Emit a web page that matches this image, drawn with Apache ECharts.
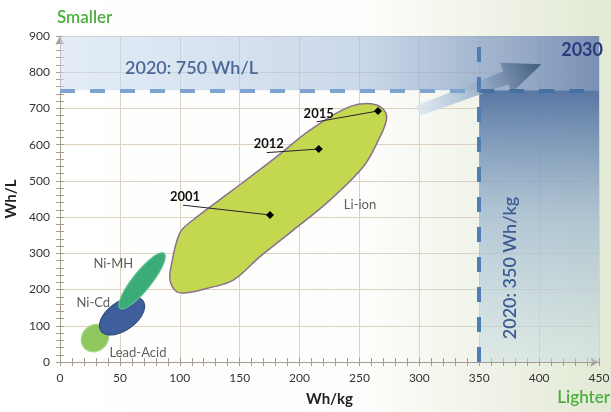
<!DOCTYPE html>
<html>
<head>
<meta charset="utf-8">
<script src="https://cdn.jsdelivr.net/npm/echarts/dist/echarts.min.js"></script>
<style>html,body{margin:0;padding:0;background:#fff}#c{width:611px;height:412px}</style>
</head>
<body>
<div id="c"></div>
<script>
// ---- data ----
const xMin = 0, xMax = 450, xStep = 50;
const yMin = 0, yMax = 900, yStep = 100;
const targetWhL = 750;
const targetWhKg = 350;

const techNames = ['Lead-Acid', 'Ni-Cd', 'Ni-MH'];
const techCenters = [[29.2, 66], [51.8, 127], [68.5, 224]];
const techHalfAxes = [[8.6, 28.4], [17.5, 41.4], [18.4, 75.9]];
const techWidthRatios = [0.88, 0.55, 0.26];

const liIonOutline = [
  [264.4, 709.5], [272.8, 677], [264.4, 603], [253.2, 539], [225.4, 447],
  [194.8, 364], [167, 291], [144.7, 226], [122.5, 203], [105.8, 191],
  [97.4, 194], [91.8, 226], [93.3, 273], [100, 356], [111, 392],
  [144.4, 475], [181, 567], [208.7, 640], [242, 705]
];

const years = ['2001', '2012', '2015'];
const yearWhKg = [175.3, 216, 265.5];
const yearWhL = [406, 588, 693];
const yearLabelWhKg = [102.7, 172.6, 214.3];
const yearLabelWhL = [433, 578, 663];

const labelNames = ['Li-ion', 'Ni-MH', 'Ni-Cd', 'Lead-Acid'];
const labelWhKg = [250.5, 44.5, 27.8, 65.1];
const labelWhL = [433.5, 270.6, 163.7, 24.8];

const arrowFrom = [298.9, 693];
const arrowTo = [402, 822];

// ---- chart ----
const FONT = 'Lato, "Open Sans", sans-serif';
const chart = echarts.init(document.getElementById('c'));
const techFill = ['#8dc75e', '#3e5f9c', '#3bab78'];
const techStroke = ['#a9d787', '#2f4c82', '#5cc08f'];
const G = echarts.graphic;
const AXC = '#a59b90';

function axisPair(isX, name, min, max, step) {
  const main = {
    type: 'value', min: min, max: max, interval: step,
    name: name, nameLocation: 'middle', nameGap: isX ? 30 : 34, nameRotate: isX ? 0 : 90,
    nameTextStyle: { fontFamily: FONT, fontWeight: 'bold', fontSize: 15, color: '#222' },
    axisLine: { show: true, symbol: ['none', 'arrow'], symbolSize: [7, 9], lineStyle: { color: AXC } },
    axisTick: { show: true, length: 4, lineStyle: { color: AXC } },
    minorTick: { show: true, splitNumber: 5, length: 4, lineStyle: { color: AXC } },
    axisLabel: { fontFamily: FONT, fontSize: 12, color: '#333', margin: 10 },
    splitLine: { show: true, lineStyle: { color: '#ddd2c2' } }
  };
  const twin = {
    type: 'value', min: min, max: max, interval: step,
    position: isX ? 'bottom' : 'left', offset: 0,
    axisLine: { show: false },
    axisTick: { show: true, inside: true, length: 4, lineStyle: { color: AXC } },
    minorTick: { show: true, splitNumber: 5, length: 4, lineStyle: { color: AXC } },
    axisLabel: { show: false },
    splitLine: { show: false }
  };
  // twin ticks point inward so they cross the axis line
  twin.minorTick.inside = true;
  return [main, twin];
}

const option = {
  animation: false,
  graphic: [
    { type: 'rect', z: -100, silent: true, shape: { x: 0, y: 0, width: 611, height: 412 },
      style: { fill: new G.LinearGradient(0, 0, 1, 0, [
        { offset: 0, color: '#ffffff' }, { offset: 0.6, color: '#fdfdfb' }, { offset: 1, color: '#e2e9d4' }]) } },
    { type: 'text', z: 50, left: 57, top: 9, style: { text: 'Smaller', fill: '#4cae3e', font: '600 17px ' + FONT } },
    { type: 'text', z: 50, right: 1, top: 389, style: { text: 'Lighter', fill: '#4cae3e', font: '600 17px ' + FONT } },
    { type: 'text', z: 50, x: 125, y: 68, style: { text: '2020: 750 Wh/L', fill: '#4a6898', font: '600 18px ' + FONT, verticalAlign: 'middle' } },
    { type: 'text', z: 50, x: 603, y: 50, style: { text: '2030', fill: '#2c3a7c', font: 'bold 18px ' + FONT, align: 'right', verticalAlign: 'middle' } },
    { type: 'text', z: 50, x: 510, y: 268, rotation: Math.PI / 2, style: { text: '2020: 350 Wh/kg', fill: '#3d5b92', font: '600 18px ' + FONT, align: 'center', verticalAlign: 'middle' } }
  ],
  grid: { left: 60, right: 12, top: 36, bottom: 50, outerBoundsMode: 'none', containLabel: false },
  xAxis: axisPair(true, 'Wh/kg', xMin, xMax, xStep),
  yAxis: axisPair(false, 'Wh/L', yMin, yMax, yStep),
  series: [
    {
      type: 'line', data: [], silent: true, z: 1,
      markArea: {
        silent: true,
        data: [
          [{ coord: [xMin, targetWhL], itemStyle: { color: new G.LinearGradient(0, 0, 1, 0, [
              { offset: 0, color: 'rgba(205,222,242,0.55)' }, { offset: 0.55, color: 'rgba(170,192,222,0.6)' }, { offset: 1, color: 'rgba(110,135,178,0.9)' }]) } },
           { coord: [xMax, yMax] }],
          [{ coord: [targetWhKg, yMin], itemStyle: { color: new G.LinearGradient(0, 0, 0, 1, [
              { offset: 0, color: 'rgba(80,112,160,0.95)' }, { offset: 0.45, color: 'rgba(150,178,205,0.7)' }, { offset: 1, color: 'rgba(200,220,228,0.45)' }]) } },
           { coord: [xMax, targetWhL] }]
        ]
      },
      markLine: {
        silent: true, symbol: 'none', label: { show: false },
        data: [
          [{ coord: [xMin, targetWhL], lineStyle: { color: '#7fa3d0', width: 4, type: [15, 15] } }, { coord: [targetWhKg, targetWhL] }],
          [{ coord: [targetWhKg, targetWhL], lineStyle: { color: '#46709f', width: 4, type: [15, 15] } }, { coord: [xMax, targetWhL] }],
          [{ coord: [targetWhKg, yMin], lineStyle: { color: '#4f7db6', width: 4, type: [15, 15] } }, { coord: [targetWhKg, yMax] }]
        ]
      }
    },
    {
      type: 'custom', z: 3, silent: true,
      data: [[arrowFrom[0], arrowFrom[1], arrowTo[0], arrowTo[1]]],
      renderItem(params, api) {
        const T = api.coord([api.value(0), api.value(1)]);
        const P = api.coord([api.value(2), api.value(3)]);
        const dx = P[0] - T[0], dy = P[1] - T[1], L = Math.hypot(dx, dy);
        const ux = dx / L, uy = dy / L, nx = -uy, ny = ux;
        const B = [P[0] - ux * 38, P[1] - uy * 38];
        const p = (o, w) => [o[0] + nx * w, o[1] + ny * w];
        return {
          type: 'polygon',
          shape: { points: [p(T, 5.5), p(B, 7), p(B, 16), P, p(B, -16), p(B, -7), p(T, -5.5)] },
          style: { fill: new G.LinearGradient(T[0], T[1], P[0], P[1], [
            { offset: 0, color: 'rgba(215,228,242,0.75)' }, { offset: 0.5, color: 'rgba(150,172,198,0.9)' }, { offset: 1, color: '#3f5a80' }], true) }
        };
      }
    },
    {
      type: 'custom', z: 4, silent: true,
      data: [0],
      renderItem(params, api) {
        const pts = liIonOutline.map(d => api.coord(d));
        return { type: 'polygon', shape: { points: pts, smooth: 0.35 },
          style: { fill: '#c3d84f', stroke: '#8c7090', lineWidth: 1.5 } };
      }
    },
    {
      type: 'custom', z: 5, silent: true,
      data: techNames.map((n, i) => [techCenters[i][0], techCenters[i][1], techHalfAxes[i][0], techHalfAxes[i][1], techWidthRatios[i]]),
      renderItem(params, api) {
        const i = params.dataIndex;
        const c = api.coord([api.value(0), api.value(1)]);
        const e = api.coord([api.value(0) + api.value(2), api.value(1) + api.value(3)]);
        const ax = e[0] - c[0], ay = e[1] - c[1], r = api.value(4);
        const bx = -ay * r, by = ax * r;
        const pts = [];
        for (let k = 0; k < 90; k++) {
          const t = k / 90 * Math.PI * 2;
          pts.push([c[0] + ax * Math.cos(t) + bx * Math.sin(t), c[1] + ay * Math.cos(t) + by * Math.sin(t)]);
        }
        return { type: 'polygon', shape: { points: pts },
          style: { fill: techFill[i], stroke: techStroke[i], lineWidth: 1.2 } };
      }
    },
    {
      type: 'custom', z: 6, silent: true,
      data: years.map((y, i) => [yearWhKg[i], yearWhL[i], yearLabelWhKg[i], yearLabelWhL[i]]),
      renderItem(params, api) {
        const i = params.dataIndex;
        const P = api.coord([api.value(0), api.value(1)]);
        const A = api.coord([api.value(2), api.value(3)]);
        const s = 4;
        return {
          type: 'group',
          children: [
            { type: 'line', shape: { x1: A[0], y1: A[1], x2: P[0], y2: P[1] }, style: { stroke: '#2a2030', lineWidth: 1 } },
            { type: 'polygon', shape: { points: [[P[0], P[1] - s], [P[0] + s, P[1]], [P[0], P[1] + s], [P[0] - s, P[1]]] }, style: { fill: '#000' } },
            { type: 'text', x: A[0] + 2, y: A[1] - 2, style: { text: years[i], font: 'bold 13px ' + FONT, fill: '#111', align: 'center', verticalAlign: 'bottom' } }
          ]
        };
      }
    },
    {
      type: 'scatter', z: 7, silent: true, symbolSize: 0,
      data: labelNames.map((n, i) => ({ name: n, value: [labelWhKg[i], labelWhL[i]] })),
      label: { show: true, position: 'inside', formatter: '{b}', fontFamily: FONT, fontSize: 13, color: '#333' }
    }
  ]
};
chart.setOption(option);
</script>
</body>
</html>
